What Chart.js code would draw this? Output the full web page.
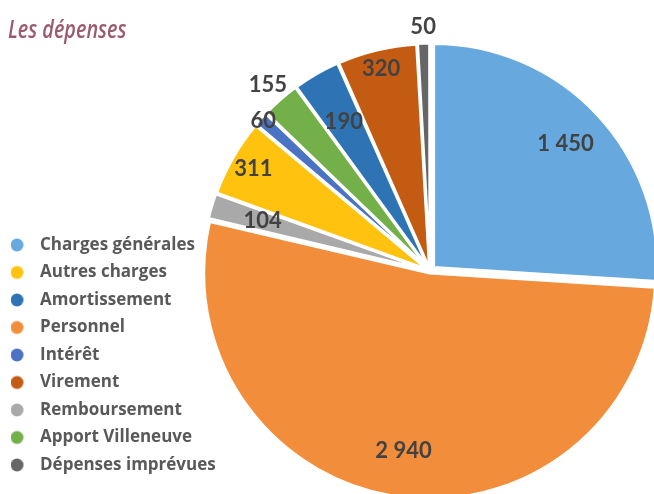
<!DOCTYPE html>
<html><head><meta charset="utf-8">
<script src="https://cdn.jsdelivr.net/npm/chart.js@4"></script>
<style>
html,body{margin:0;padding:0;background:#fff;overflow:hidden;width:654px;height:494px;}
#wrap{position:relative;width:654px;height:494px;}
canvas{position:absolute;left:0;top:0;}
#title{position:absolute;left:8px;top:13px;z-index:2;font-family:'Open Sans',sans-serif;font-style:italic;font-weight:600;font-size:26px;line-height:30px;color:#9b5a6d;white-space:nowrap;transform:scaleX(0.76);transform-origin:left top;}
</style></head><body>
<div id="wrap"><canvas id="c" width="654" height="494"></canvas><div id="title">Les dépenses</div></div>
<script>
// Pie order (clockwise from 12 o'clock)
const categories = ['Charges générales','Personnel','Remboursement','Autres charges','Intérêt','Apport Villeneuve','Amortissement','Virement','Dépenses imprévues'];
const values = [1450, 2940, 104, 311, 60, 155, 190, 320, 50];
// Legend reading order
const legendOrder = ['Charges générales','Autres charges','Amortissement','Personnel','Intérêt','Virement','Remboursement','Apport Villeneuve','Dépenses imprévues'];
const colors = ['#67A8DE','#F28E3B','#A9A9A9','#FFC20E','#4A73C4','#74B04A','#2E73B3','#C45B12','#666666'];
const sliceOffsets = [20, 8, 8, 8, 8, 8, 8, 8, 8];
const labelRadius = [0.83, 0.81, 0.78, 0.91, 1.0, 1.10, 0.77, 0.93, 1.09];

const PIE_CX = 430, PIE_CY = 271, PIE_R = 224;

function fmt(v){ return String(v).replace(/\B(?=(\d{3})+(?!\d))/g, ' '); }

function dot(color){
  const c = document.createElement('canvas');
  c.width = 21; c.height = 16;
  const g = c.getContext('2d');
  g.fillStyle = color;
  g.beginPath(); g.arc(6.5, 8, 6.5, 0, Math.PI*2); g.fill();
  return c;
}

const piePlace = {
  id: 'piePlace',
  afterLayout(chart){
    chart.chartArea = {left: PIE_CX - PIE_R, right: PIE_CX + PIE_R, top: PIE_CY - PIE_R, bottom: PIE_CY + PIE_R, width: 2*PIE_R, height: 2*PIE_R};
  }
};

const valueLabels = {
  id: 'valueLabels',
  afterDatasetsDraw(chart){
    const ctx = chart.ctx;
    const meta = chart.getDatasetMeta(0);
    ctx.save();
    ctx.font = 'bold 22px Lato, "Open Sans", sans-serif';
    ctx.fillStyle = '#424242';
    ctx.textAlign = 'center';
    ctx.textBaseline = 'middle';
    meta.data.forEach((arc, i) => {
      const p = arc.getProps(['x','y','startAngle','endAngle','outerRadius'], true);
      const mid = (p.startAngle + p.endAngle) / 2;
      const r = p.outerRadius * labelRadius[i];
      ctx.fillText(fmt(values[i]), p.x + Math.cos(mid) * r, p.y + Math.sin(mid) * r);
    });
    ctx.restore();
  }
};

new Chart(document.getElementById('c'), {
  type: 'pie',
  data: {
    labels: categories,
    datasets: [{
      data: values,
      backgroundColor: colors,
      borderColor: '#ffffff',
      borderWidth: 3,
      offset: sliceOffsets,
      radius: PIE_R,
      clip: false
    }]
  },
  options: {
    responsive: false,
    animation: false,
    layout: {padding: {left: 0, right: 0, top: 0, bottom: 10}},
    plugins: {
      title: {display: false},
      tooltip: {enabled: false},
      legend: {
        display: true,
        position: 'left',
        align: 'end',
        labels: {
          usePointStyle: true,
          pointStyleWidth: 21,
          boxHeight: 17,
          padding: 10.5,
          color: '#595959',
          font: {family: '"Open Sans", sans-serif', size: 17, weight: 'bold'},
          sort: (a, b) => legendOrder.indexOf(a.text) - legendOrder.indexOf(b.text),
          generateLabels(chart){
            const items = Chart.overrides.pie.plugins.legend.labels.generateLabels(chart);
            return items.map(it => Object.assign(it, {pointStyle: dot(it.fillStyle), fontColor: '#595959'}));
          }
        }
      }
    }
  },
  plugins: [piePlace, valueLabels]
});
</script>
</body></html>
